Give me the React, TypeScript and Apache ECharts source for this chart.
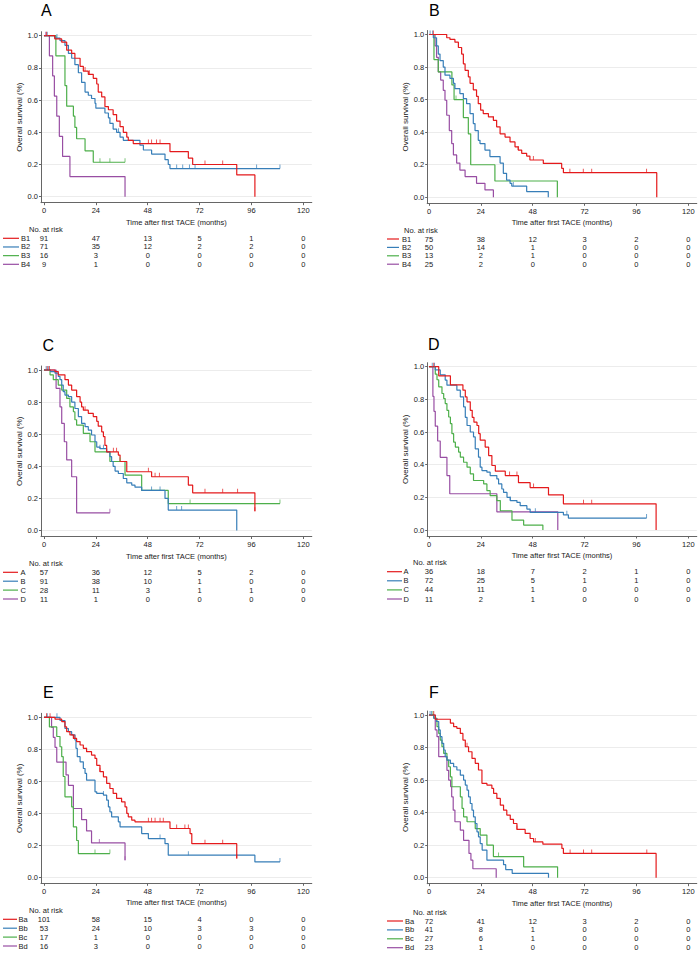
import React, { useEffect, useRef } from "react";
import * as echarts from "echarts";

const FONT = "'Liberation Sans', Arial, Helvetica, sans-serif";

// ---------- tick labels / titles ----------
const timeTicks = [0, 24, 48, 72, 96, 120];
const survTicks = [0, 0.2, 0.4, 0.6, 0.8, 1.0];
const xTitle = "Time after first TACE (months)";
const yTitle = "Overall survival (%)";
const panelLetters = ["A", "B", "C", "D", "E", "F"];
const groupColors = ["#e41a1c", "#377eb8", "#4daf4a", "#984ea3"];

// ---------- group names ----------
const groupsAB = ["B1", "B2", "B3", "B4"];
const groupsCD = ["A", "B", "C", "D"];
const groupsEF = ["Ba", "Bb", "Bc", "Bd"];

// ---------- Panel A curves [month, survival] ----------
const curveA1 = [[0,1],[5,0.98],[8.2,0.96],[10.5,0.91],[12.8,0.89],[14.3,0.86],[16.7,0.81],[18.2,0.78],[20.5,0.76],[22.8,0.735],[24.4,0.70],[25.1,0.65],[26.7,0.62],[28.2,0.56],[29.8,0.54],[32,0.51],[33.6,0.47],[35.2,0.435],[36.7,0.40],[38.3,0.37],[39,0.35],[41.3,0.33],[58.3,0.28],[66.8,0.24],[68.8,0.20],[89.2,0.135],[97.6,0]];
const curveA2 = [[0,1],[5,0.985],[7.4,0.97],[9.7,0.94],[11.3,0.89],[12.8,0.86],[14.3,0.82],[15.9,0.77],[17.4,0.71],[19,0.65],[20.5,0.63],[22,0.61],[23.6,0.58],[24,0.55],[28.2,0.52],[29.8,0.49],[30.5,0.455],[32,0.42],[33.6,0.40],[35.2,0.37],[36.7,0.35],[44.4,0.32],[46,0.29],[49.8,0.265],[56,0.23],[57.5,0.20],[58.3,0.175],[109.2,0.175]];
const curveA3 = [[0,1],[5.5,0.875],[9.7,0.69],[10.5,0.5625],[13.6,0.50],[14.3,0.43],[15.1,0.36],[19,0.285],[22.8,0.214],[37.5,0.214]];
const curveA4 = [[0,1],[2.5,0.875],[4,0.75],[4.8,0.625],[5.9,0.5],[7.1,0.375],[8.6,0.25],[12,0.125],[37.5,0]];
const censA1 = [1.2, 19, 21, 48.3, 49.8, 52.1, 53.7, 74.5, 82.7];
const censA2 = [1.5, 6, 34.5, 61.4, 64.2, 67.3, 69.9, 98.4, 109.2];
const censA3 = [25.9, 30.5, 37.5];
const censA4 = [0.8];

// ---------- Panel B ----------
const curveB1 = [[0,1],[8.2,0.98],[9.7,0.97],[12,0.953],[13.6,0.92],[15.1,0.88],[15.9,0.82],[16.7,0.78],[18.2,0.74],[19,0.70],[20.5,0.66],[22,0.62],[22.8,0.575],[23.9,0.535],[25.1,0.514],[27.5,0.494],[29.8,0.473],[31.3,0.433],[32.9,0.39],[35.2,0.37],[37.5,0.34],[39.8,0.31],[41.3,0.29],[42.9,0.27],[45.2,0.253],[46.7,0.229],[52.9,0.208],[61.4,0.178],[62.2,0.151],[105.4,0]];
const curveB2 = [[0,1],[2,0.98],[3.5,0.93],[4.3,0.88],[5.1,0.84],[6.6,0.80],[7.4,0.75],[9.7,0.73],[11.3,0.70],[12,0.667],[14.3,0.637],[15.9,0.606],[17.4,0.575],[19,0.514],[20.5,0.453],[21.3,0.41],[22.8,0.35],[23.6,0.33],[25.9,0.29],[28.2,0.25],[32.9,0.21],[34.4,0.147],[35.9,0.106],[37.5,0.086],[38.3,0.069],[45.2,0.035],[55.2,0]];
const curveB3 = [[0,1],[2.3,0.846],[4.3,0.77],[10.6,0.69],[11.6,0.60],[15.9,0.49],[18.2,0.39],[19.3,0.20],[30.5,0.10],[59.4,0]];
const curveB4 = [[0,1],[2.8,0.93],[3.5,0.86],[4.3,0.77],[5.4,0.72],[6.6,0.657],[7.4,0.596],[8.2,0.504],[9.4,0.41],[10.5,0.33],[11.3,0.26],[12.8,0.21],[14.3,0.167],[16.7,0.127],[22,0.086],[25.9,0.045],[29.8,0]];
const censB1 = [2, 29.8, 41.3, 48.3, 65.2, 71.4, 75.3, 100.7];
const censB2 = [0.5, 1.7, 39];
const censB3 = [12.5];
const censB4: number[] = [];

// ---------- Panel C ----------
const curveC1 = [[0,1],[5.1,0.99],[6.6,0.97],[9.7,0.94],[11.3,0.906],[12.8,0.875],[15.1,0.834],[16.7,0.80],[17.4,0.77],[18.2,0.75],[20.5,0.73],[22.8,0.71],[24.4,0.68],[25.1,0.65],[26.7,0.615],[27.5,0.585],[28.2,0.53],[29,0.49],[34.4,0.47],[35.2,0.43],[38.3,0.366],[49.8,0.335],[66.8,0.283],[68.8,0.235],[97.6,0.12]];
const curveC2 = [[0,1],[3,0.99],[5.1,0.98],[6.6,0.96],[7.4,0.94],[8.2,0.906],[8.9,0.865],[9.7,0.844],[11.3,0.834],[12.8,0.80],[14.3,0.76],[15.9,0.71],[17.4,0.667],[19,0.647],[20.5,0.626],[22,0.595],[23.6,0.553],[24.4,0.52],[25.9,0.51],[29,0.49],[30.5,0.46],[31.3,0.43],[32,0.40],[32.9,0.37],[34.4,0.355],[36.7,0.324],[38.3,0.297],[40.6,0.283],[42.1,0.27],[45.2,0.25],[56,0.20],[57.5,0.127],[89.2,0]];
const curveC3 = [[0,1],[2.8,0.97],[4.3,0.94],[6.6,0.906],[8.2,0.875],[10.5,0.823],[12,0.77],[13.6,0.74],[14.3,0.69],[15.1,0.657],[18.2,0.605],[21.3,0.553],[23.6,0.49],[30.5,0.43],[37.5,0.345],[45.2,0.25],[57.5,0.168],[109.2,0.168]];
const curveC4 = [[0,1],[5.6,0.886],[7.4,0.77],[8.2,0.667],[9.4,0.553],[10.5,0.44],[12.8,0.335],[15.1,0.11],[30.5,0.11]];
const censC1 = [1.5, 2.5, 19, 32.1, 33.6, 48.3, 51.4, 53.4, 74.5, 82.7, 89.6, 97.6];
const censC2 = [1, 2, 25.9, 27.5, 49.8, 53.7, 61.4, 63.7];
const censC3 = [35.2, 67.6, 109.2];
const censC4 = [30.5];

// ---------- Panel D ----------
const curveD1 = [[0,1],[4.5,0.944],[9.9,0.889],[15.7,0.856],[16.8,0.815],[17.6,0.785],[19.1,0.733],[20,0.69],[20.8,0.66],[22.2,0.64],[23,0.59],[23.7,0.55],[26,0.508],[27.6,0.456],[29.1,0.395],[30.7,0.36],[35.3,0.333],[41.4,0.29],[46.8,0.26],[55.3,0.215],[62.2,0.16],[105.1,0]];
const curveD2 = [[0,1],[2.9,0.98],[5.2,0.95],[7.5,0.918],[8.3,0.887],[12.9,0.856],[14.5,0.815],[16,0.754],[16.8,0.69],[17.6,0.64],[19.1,0.60],[20.6,0.57],[21.4,0.497],[22.9,0.446],[23.7,0.385],[24.5,0.364],[26.8,0.354],[28.3,0.333],[31.4,0.313],[32.2,0.282],[33.7,0.251],[34.5,0.23],[36.1,0.20],[37.6,0.18],[40.7,0.169],[42.2,0.149],[45.3,0.128],[46.8,0.108],[62.2,0.093],[64.5,0.073],[100.7,0.073]];
const curveD3 = [[0,1],[2.9,0.954],[3.7,0.92],[4.5,0.877],[6,0.836],[6.8,0.805],[7.5,0.774],[8.3,0.733],[9.1,0.692],[9.9,0.651],[10.6,0.59],[11.4,0.538],[12.2,0.508],[13.7,0.477],[14.5,0.446],[16,0.415],[17.6,0.385],[19.1,0.344],[20.6,0.303],[25.3,0.282],[26.8,0.241],[28.3,0.21],[31.4,0.18],[33,0.118],[38.4,0.06],[43.8,0.03],[52.7,0]];
const curveD4 = [[0,1],[1.8,0.818],[2.3,0.727],[2.9,0.636],[4,0.545],[5.2,0.445],[8.3,0.333],[9.6,0.222],[31.4,0.111],[59.6,0]];
const censD1 = [2.2, 37.3, 40.7, 48.4, 71.5, 75.3];
const censD2 = [1.5, 2.5, 37.6, 49.2, 63.8, 100.7];
const censD3: number[] = [];
const censD4: number[] = [];

// ---------- Panel E ----------
const curveE1 = [[0,1],[5.1,0.988],[8.2,0.973],[9.7,0.94],[10.5,0.91],[12,0.89],[13.6,0.868],[15.1,0.848],[16.7,0.827],[18.2,0.806],[19.7,0.785],[22,0.764],[23.6,0.743],[24.4,0.70],[25.9,0.66],[27.5,0.628],[29,0.587],[30.5,0.555],[32,0.524],[33.6,0.493],[35.9,0.472],[37.5,0.44],[38.3,0.399],[39,0.378],[40.6,0.357],[42.1,0.347],[58.3,0.305],[67.6,0.273],[68.4,0.21],[89.2,0.117]];
const curveE2 = [[0,1],[7.4,0.98],[9.7,0.93],[11.3,0.91],[12.8,0.89],[14.3,0.858],[14.8,0.806],[15.4,0.754],[16.7,0.722],[18.2,0.68],[19,0.649],[19.7,0.607],[23.6,0.534],[24.4,0.524],[27.5,0.514],[29,0.482],[29.8,0.44],[30.5,0.409],[31.3,0.378],[34.4,0.347],[35.2,0.315],[45.2,0.273],[48.3,0.242],[56,0.21],[57.5,0.138],[97.6,0.096],[109.2,0.096]];
const curveE3 = [[0,1],[2.5,0.94],[5.9,0.88],[7.4,0.816],[8.2,0.754],[8.9,0.63],[9.7,0.503],[12.8,0.44],[13.6,0.315],[15.1,0.23],[15.9,0.148],[30.5,0.148]];
const curveE4 = [[0,1],[3.5,0.9375],[4.3,0.875],[5.1,0.8125],[5.9,0.72],[10.2,0.64],[11.3,0.575],[13.6,0.43],[17.4,0.36],[19.7,0.29],[22,0.215],[37.5,0.107]];
const censE1 = [1.2, 2.8, 14.3, 19.7, 25.9, 35.9, 48.3, 49.8, 51.4, 53.7, 55.2, 61.4, 65.2, 66.8, 74.5, 82.7, 89.2];
const censE2 = [1.5, 6, 27.5, 53.7, 66.8, 109.2];
const censE3 = [23.6, 30.5];
const censE4 = [25.6, 37.5];

// ---------- Panel F ----------
const curveF1 = [[0,1],[2.9,0.974],[9.9,0.95],[11.4,0.928],[12.9,0.918],[14.5,0.887],[15.7,0.846],[16.8,0.805],[18.3,0.774],[19.9,0.733],[21.4,0.703],[22.9,0.662],[24.5,0.58],[26.8,0.569],[29.1,0.549],[29.9,0.518],[31.4,0.487],[33,0.446],[34.5,0.415],[36,0.385],[37.6,0.358],[39.1,0.333],[40.7,0.297],[44.5,0.272],[46.8,0.241],[48.4,0.22],[52.7,0.206],[61.5,0.18],[62.2,0.149],[105.1,0]];
const curveF2 = [[0,1],[2.2,0.98],[3.4,0.96],[4.5,0.908],[5.2,0.867],[6,0.826],[6.8,0.785],[7.5,0.744],[8.3,0.723],[9.9,0.703],[11.4,0.682],[12.9,0.662],[14.5,0.63],[16,0.60],[16.8,0.569],[17.6,0.538],[18.3,0.497],[19.1,0.456],[19.9,0.415],[20.6,0.374],[21.4,0.333],[22.2,0.282],[22.9,0.251],[23.7,0.21],[24.6,0.17],[26.8,0.108],[34.5,0.08],[35.5,0.05],[38.5,0.026],[55.3,0]];
const curveF3 = [[0,1],[2.2,0.98],[3.7,0.928],[4.5,0.887],[5.2,0.846],[6,0.805],[6.8,0.764],[8.3,0.723],[9.1,0.682],[9.9,0.62],[10.6,0.559],[14.5,0.497],[15.3,0.426],[16,0.374],[17.6,0.344],[21.4,0.302],[23.7,0.262],[26.8,0.2],[29.8,0.13],[43.8,0.067],[59.5,0]];
const curveF4 = [[0,1],[2.9,0.908],[3.7,0.867],[4.5,0.744],[8.3,0.66],[9.1,0.60],[10,0.56],[10.5,0.497],[11.2,0.415],[12,0.344],[14.5,0.292],[16,0.23],[18.5,0.149],[19.4,0.108],[20.3,0.055],[31.1,0]];
const censF1 = [2.2, 17.6, 40.7, 49.2, 65.3, 71.5, 75.3, 100.8];
const censF2 = [0.5, 1.2];
const censF3 = [1.8, 32.2];
const censF4: number[] = [];

// ---------- Numbers at risk (at 0, 24, 48, 72, 96, 120 months) ----------
const riskA = [[91,47,13,5,1,0],[71,35,12,2,2,0],[16,3,0,0,0,0],[9,1,0,0,0,0]];
const riskB = [[75,38,12,3,2,0],[50,14,1,0,0,0],[13,2,1,0,0,0],[25,2,0,0,0,0]];
const riskC = [[57,36,12,5,2,0],[91,38,10,1,0,0],[28,11,3,1,1,0],[11,1,0,0,0,0]];
const riskD = [[36,18,7,2,1,0],[72,25,5,1,1,0],[44,11,1,0,0,0],[11,2,1,0,0,0]];
const riskE = [[101,58,15,4,0,0],[53,24,10,3,3,0],[17,1,0,0,0,0],[16,3,0,0,0,0]];
const riskF = [[72,41,12,3,2,0],[41,8,1,0,0,0],[27,6,1,0,0,0],[23,1,0,0,0,0]];

const panels = [
  { groups: groupsAB, curves: [curveA1, curveA2, curveA3, curveA4], censors: [censA1, censA2, censA3, censA4], risk: riskA },
  { groups: groupsAB, curves: [curveB1, curveB2, curveB3, curveB4], censors: [censB1, censB2, censB3, censB4], risk: riskB },
  { groups: groupsCD, curves: [curveC1, curveC2, curveC3, curveC4], censors: [censC1, censC2, censC3, censC4], risk: riskC },
  { groups: groupsCD, curves: [curveD1, curveD2, curveD3, curveD4], censors: [censD1, censD2, censD3, censD4], risk: riskD },
  { groups: groupsEF, curves: [curveE1, curveE2, curveE3, curveE4], censors: [censE1, censE2, censE3, censE4], risk: riskE },
  { groups: groupsEF, curves: [curveF1, curveF2, curveF3, curveF4], censors: [censF1, censF2, censF3, censF4], risk: riskF },
];

// ---------- layout (pixels) ----------
const columns = [
  { x0: 44, x120: 303.3, off: 3 },
  { x0: 429, x120: 688.3, off: 1.8 },
];
const layout = [
  { col: 0, lx: 41, ly: 2, y1: 35.7, y0: 196.7, r0: 238.3, rs: 8.67, narX: 29, labelX: 21, sw: [3, 19] },
  { col: 1, lx: 429, ly: 2, y1: 34.5, y0: 197.3, r0: 239, rs: 8.4, narX: 404, labelX: 402, sw: [387, 399] },
  { col: 0, lx: 42.5, ly: 337, y1: 370, y0: 530.5, r0: 572.3, rs: 8.9, narX: 29, labelX: 20.5, sw: [3, 18] },
  { col: 1, lx: 428, ly: 336.5, y1: 366.7, y0: 530, r0: 571.7, rs: 9.1, narX: 413, labelX: 403.5, sw: [387, 402] },
  { col: 0, lx: 43, ly: 684.5, y1: 717.3, y0: 877.3, r0: 919.3, rs: 8.9, narX: 29, labelX: 18.5, sw: [3, 17] },
  { col: 1, lx: 429, ly: 684.5, y1: 715, y0: 877.7, r0: 921, rs: 8.9, narX: 413, labelX: 405, sw: [387, 403] },
];

const TEXT_COLOR = "#1a1a1a";
const FS = 7.5;

function stepValue(curve: number[][], t: number) {
  let v = curve[0][1];
  for (const [x, y] of curve) {
    if (x <= t) v = y;
    else break;
  }
  return v;
}

function renderRiskCell(_params: any, api: any) {
  const pt = api.coord([api.value(0), api.value(1)]);
  return {
    type: "text",
    x: pt[0],
    y: pt[1],
    silent: true,
    style: {
      text: String(api.value(2)),
      fill: TEXT_COLOR,
      fontSize: FS,
      fontFamily: FONT,
      align: "center",
      verticalAlign: "middle",
    },
  };
}

function buildOption() {
  const grid: any[] = [];
  const xAxis: any[] = [];
  const yAxis: any[] = [];
  const series: any[] = [];
  const title: any[] = [];
  const graphic: any[] = [];
  const axisColor = "#666";

  panels.forEach((p, i) => {
    const L = layout[i];
    const c = columns[L.col];
    const ppm = (c.x120 - c.x0) / 120;
    const axL = c.x0 - c.off;
    const axR = c.x120 + 8.5;
    const xmin = (axL - c.x0) / ppm;
    const xmax = (axR - c.x0) / ppm;
    const ppu = L.y0 - L.y1;
    const axT = L.y1 - 4;
    const axB = L.y0 + 6;
    const ymax = 1 + 4 / ppu;
    const ymin = -6 / ppu;
    const gk = i * 2;
    const gt = i * 2 + 1;

    grid.push({ left: axL, top: axT, width: axR - axL, height: axB - axT, containLabel: false });
    grid.push({ left: axL, top: L.r0 - L.rs / 2, width: axR - axL, height: L.rs * 4, containLabel: false });

    xAxis.push({
      gridIndex: gk, type: "value", min: xmin, max: xmax,
      name: xTitle, nameLocation: "middle", nameGap: 15.5,
      nameTextStyle: { fontSize: FS, color: TEXT_COLOR, fontFamily: FONT },
      axisLine: { show: true, onZero: false, lineStyle: { color: axisColor, width: 1 } },
      axisTick: { show: true, customValues: timeTicks, length: 2.5, lineStyle: { color: axisColor } },
      axisLabel: { customValues: timeTicks, fontSize: FS, color: TEXT_COLOR, margin: 4, fontFamily: FONT },
      splitLine: { show: false },
    });
    xAxis.push({ gridIndex: gt, type: "value", min: xmin, max: xmax, show: false });

    yAxis.push({
      gridIndex: gk, type: "value", min: ymin, max: ymax,
      name: yTitle, nameLocation: "middle", nameGap: 15.5,
      nameTextStyle: { fontSize: 8, color: TEXT_COLOR, fontFamily: FONT },
      axisLine: { show: true, onZero: false, lineStyle: { color: axisColor, width: 1 } },
      axisTick: { show: true, customValues: survTicks, length: 2, lineStyle: { color: axisColor } },
      axisLabel: { customValues: survTicks, formatter: (v: number) => Number(v).toFixed(1), fontSize: FS, color: TEXT_COLOR, margin: 3, fontFamily: FONT },
      splitLine: { show: true, lineStyle: { color: "#ececec", width: 1 } },
    });
    yAxis.push({
      gridIndex: gt, type: "category", data: p.groups, inverse: true,
      axisLine: { show: false }, axisTick: { show: false }, splitLine: { show: false },
      axisLabel: { show: true, interval: 0, align: "left", margin: axL - L.labelX, fontSize: FS, color: TEXT_COLOR, fontFamily: FONT },
    });

    // curves (drawn last group first so the first group is on top)
    for (let g = 3; g >= 0; g--) {
      series.push({
        type: "line", xAxisIndex: gk, yAxisIndex: gk, step: "end",
        showSymbol: false, symbol: "none", silent: true,
        lineStyle: { color: groupColors[g], width: 1.2 },
        data: p.curves[g],
        z: 2,
      });
    }
    for (let g = 3; g >= 0; g--) {
      const cd = p.censors[g].map((t) => [t, stepValue(p.curves[g], t)]);
      if (!cd.length) continue;
      series.push({
        type: "scatter", xAxisIndex: gk, yAxisIndex: gk, silent: true,
        symbol: "rect", symbolSize: [0.9, 4], symbolOffset: [0, -2],
        itemStyle: { color: groupColors[g] },
        data: cd, z: 3,
      });
    }

    // number at risk table
    const tdata: any[] = [];
    p.risk.forEach((row, r) => row.forEach((v, k) => tdata.push([timeTicks[k], r, v])));
    series.push({
      type: "custom", xAxisIndex: gt, yAxisIndex: gt, silent: true,
      renderItem: renderRiskCell,
      encode: { x: 0, y: 1 },
      data: tdata,
    });

    title.push({
      text: panelLetters[i], left: L.lx, top: L.ly, padding: 0,
      textStyle: { fontSize: 16, fontWeight: "normal", color: "#000", fontFamily: FONT },
    });

    graphic.push({
      type: "text", x: L.narX, y: L.r0 - L.rs, silent: true,
      style: { text: "No. at risk", fontSize: FS, fill: TEXT_COLOR, fontFamily: FONT, verticalAlign: "middle" },
    });
    p.groups.forEach((_, r) => {
      const yy = L.r0 + r * L.rs;
      graphic.push({
        type: "line", silent: true,
        shape: { x1: L.sw[0], y1: yy, x2: L.sw[1], y2: yy },
        style: { stroke: groupColors[r], lineWidth: 1.2 },
      });
    });
  });

  return {
    animation: false,
    backgroundColor: "#ffffff",
    textStyle: { fontFamily: FONT },
    title, grid, xAxis, yAxis, series, graphic,
  };
}

export default function App() {
  const ref = useRef<HTMLDivElement>(null);
  useEffect(() => {
    if (!ref.current) return;
    const chart = echarts.init(ref.current, null, { renderer: "svg", width: 700, height: 953 });
    chart.setOption(buildOption() as any);
    return () => chart.dispose();
  }, []);
  return (
    <div
      ref={ref}
      style={{ position: "absolute", left: 0, top: 0, width: 700, height: 953, background: "#fff" }}
    />
  );
}
